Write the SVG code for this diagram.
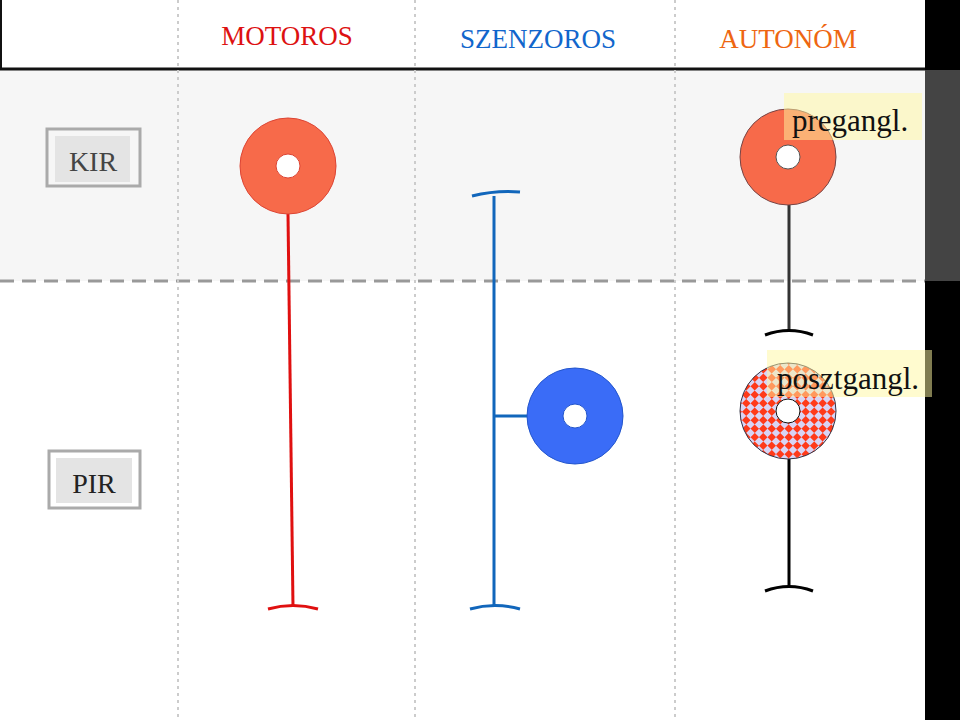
<svg xmlns="http://www.w3.org/2000/svg" width="960" height="720" viewBox="0 0 960 720">
<defs>
<pattern id="chk" width="12" height="12" patternUnits="userSpaceOnUse" patternTransform="rotate(45 788 411)">
<rect width="12" height="12" fill="#ff3a1a"/><rect width="6" height="6" fill="#d8d4f4"/><rect x="6" y="6" width="6" height="6" fill="#d8d4f4"/>
</pattern>
<mask id="h1"><rect width="960" height="720" fill="#fff"/><circle cx="288" cy="166" r="12" fill="#000"/></mask>
</defs>
<style>
text{font-family:"Liberation Serif",serif}
.div{stroke:#ccc;stroke-width:2;stroke-dasharray:3 4}
.lbl{fill:#e4e4e4;stroke:#aaa;stroke-width:3}
</style>
<rect width="960" height="720" fill="#fff"/>
<rect x="0" y="70" width="925" height="211" fill="#f6f6f6"/>
<rect x="925" y="0" width="35" height="720" fill="#000"/>
<rect x="925" y="70" width="35" height="211" fill="#444"/>
<line x1="0" y1="281" x2="925" y2="281" stroke="#999" stroke-width="3" stroke-dasharray="14 8"/>
<line x1="1" y1="0" x2="1" y2="69" stroke="#111" stroke-width="2"/>
<line x1="0" y1="69" x2="925" y2="69" stroke="#111" stroke-width="3"/>
<g id="dividers">
<line class="div" x1="178" y1="0" x2="178" y2="720"/>
<line class="div" x1="415" y1="0" x2="415" y2="720"/>
<line class="div" x1="675" y1="0" x2="675" y2="720"/>
</g>
<g id="headers" font-size="27">
<text x="287" y="45" text-anchor="middle" fill="#dd1111">MOTOROS</text>
<text x="538" y="48" text-anchor="middle" fill="#1166cc">SZENZOROS</text>
<text x="788" y="48" text-anchor="middle" fill="#ee6611">AUTONÓM</text>
</g>
<g id="kir"><rect x="47" y="129" width="93" height="57" fill="none" stroke="#aaa" stroke-width="3"/><rect x="55" y="136" width="75" height="46" fill="#e4e4e4"/><text x="93" y="171" font-size="28" text-anchor="middle" fill="#444">KIR</text></g>
<g id="pir"><rect x="49" y="451" width="91" height="57" fill="none" stroke="#aaa" stroke-width="3"/><rect x="56" y="458" width="76" height="45" fill="#e4e4e4"/><text x="94" y="493" font-size="28" text-anchor="middle" fill="#222">PIR</text></g>
<g id="connectors" fill="none" stroke-width="3">
<path d="M288 214 L293 607" stroke="#e01010"/>
<path d="M268 609 Q293 602 318 609" stroke="#e01010"/>
<path d="M494 196 L494 607" stroke="#1166bb"/>
<path d="M472 196 Q496 190 520 192" stroke="#1166bb"/>
<path d="M470 609 Q495 602 520 609" stroke="#1166bb"/>
<path d="M494 416 L528 416" stroke="#1166bb"/>
<path d="M789 205 L789 330" stroke="#333"/>
<path d="M765 335 Q789 326 813 335" stroke="#000"/>
<path d="M789 459 L789 586" stroke="#000"/>
<path d="M765 591 Q789 582 813 591" stroke="#000"/>
</g>
<g id="motor"><circle cx="288" cy="166" r="48" fill="#f76a4a" stroke="#dd4433"/><circle cx="288" cy="166" r="12" fill="#fff" stroke="#dd4433"/></g>
<g id="sensor"><circle cx="575" cy="416" r="48" fill="#3a6cf7" stroke="#2255cc"/><circle cx="575" cy="416" r="12" fill="#fff" stroke="#2255cc"/></g>
<g id="pregangl"><circle cx="788" cy="157" r="48" fill="#f76a4a" stroke="#774444"/><circle cx="788" cy="157" r="12" fill="#fff" stroke="#555"/>
<rect x="784" y="93" width="138" height="47" fill="#fff8a0" opacity="0.5"/><text x="792" y="131" font-size="31" fill="#111">pregangl.</text></g>
<g id="posztgangl"><circle cx="788" cy="411" r="48" fill="url(#chk)" stroke="#334"/><circle cx="788" cy="411" r="12" fill="#fff" stroke="#111"/>
<rect x="767" y="350" width="165" height="47" fill="#fff8a0" opacity="0.5"/><text x="777" y="389" font-size="31" fill="#111">posztgangl.</text></g>
</svg>
